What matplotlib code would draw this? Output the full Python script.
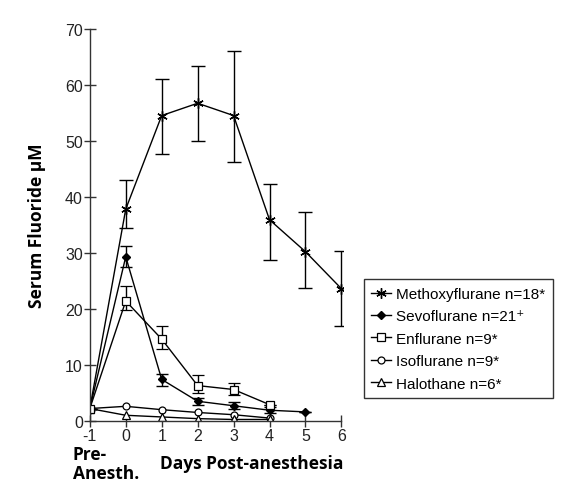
import numpy as np
import matplotlib
matplotlib.use("Agg")
import matplotlib.pyplot as plt
from matplotlib.lines import Line2D

# days (-1 = pre-anesthesia)
days = [-1, 0, 1, 2, 3, 4, 5, 6]

# Methoxyflurane n=18
metho = [2.3, 37.9, 54.6, 56.8, 54.6, 36.0, 30.3, 23.7]
metho_lo = [2.3, 34.5, 47.7, 50.0, 46.4, 28.9, 23.9, 17.0]
metho_hi = [2.3, 43.1, 61.2, 63.5, 66.1, 42.3, 37.4, 30.4]

# Sevoflurane n=21
sevo_days = [-1, 0, 1, 2, 3, 4, 5]
sevo = [2.3, 29.4, 7.5, 3.6, 2.8, 2.0, 1.7]
sevo_lo = [2.3, 27.6, 6.4, 3.0, 2.2, 1.5, 1.7]
sevo_hi = [2.3, 31.4, 8.5, 4.2, 3.4, 2.5, 1.7]

# Enflurane n=9
enflu_days = [-1, 0, 1, 2, 3, 4]
enflu = [2.3, 21.5, 14.7, 6.4, 5.7, 3.0]
enflu_lo = [2.3, 19.9, 12.9, 5.1, 4.8, 3.0]
enflu_hi = [2.3, 24.1, 17.1, 8.3, 6.8, 3.0]

# Isoflurane n=9
iso_days = [-1, 0, 1, 2, 3, 4]
iso = [2.3, 2.7, 2.1, 1.6, 1.2, 0.6]

# Halothane n=6
halo_days = [-1, 0, 1, 2, 3, 4]
halo = [2.3, 1.1, 0.8, 0.5, 0.35, 0.35]

labels = ["Methoxyflurane n=18*", "Sevoflurane n=21\u207a", "Enflurane n=9*",
          "Isoflurane n=9*", "Halothane n=6*"]
xtick_vals = [-1, 0, 1, 2, 3, 4, 5, 6]
ytick_vals = [0, 10, 20, 30, 40, 50, 60, 70]

fig = plt.figure(figsize=(5.72, 4.85), dpi=100)
ax = fig.add_axes([0.157, 0.129, 0.443, 0.812])

tickfont = ["Liberation Sans", "DejaVu Sans"]
labfont = "Open Sans"


def errs(v, lo, hi):
    v = np.array(v)
    return [v - np.array(lo), np.array(hi) - v]


styles = [
    dict(marker=(6, 2, 0), markersize=7.5, mew=1.0),
    dict(marker="D", markersize=4.2, mfc="black"),
    dict(marker="s", markersize=5.5, mfc="white", mew=0.9),
    dict(marker="o", markersize=5, mfc="white", mew=0.9),
    dict(marker="^", markersize=5.2, mfc="white", mew=0.9),
]

ax.errorbar(days, metho, yerr=errs(metho, metho_lo, metho_hi), color="black",
            lw=1.0, elinewidth=1.0, capsize=5, capthick=1.0, **styles[0])
ax.errorbar(sevo_days, sevo, yerr=errs(sevo, sevo_lo, sevo_hi), color="black",
            lw=1.0, elinewidth=1.0, capsize=4, capthick=1.0, **styles[1])
ax.errorbar(enflu_days, enflu, yerr=errs(enflu, enflu_lo, enflu_hi), color="black",
            lw=1.0, elinewidth=1.0, capsize=4, capthick=1.0, **styles[2])
ax.plot(iso_days, iso, color="black", lw=1.0, **styles[3])
ax.plot(halo_days, halo, color="black", lw=1.0, **styles[4])

ax.set_xlim(-1, 6.05)
ax.set_ylim(0, 70.3)
ax.set_xticks(xtick_vals)
ax.set_yticks(ytick_vals)
ax.set_xticklabels([str(v) for v in xtick_vals], fontfamily=tickfont, fontsize=11.5, color="#222222")
ax.set_yticklabels([str(v) for v in ytick_vals], fontfamily=tickfont, fontsize=11.5, color="#222222")
ax.tick_params(axis="both", direction="inout", length=8, width=1.0, color="#333333")
ax.tick_params(axis="x", pad=1)
ax.tick_params(axis="y", pad=1)
for s in ["top", "right"]:
    ax.spines[s].set_visible(False)
for s in ["left", "bottom"]:
    ax.spines[s].set_linewidth(1.0)
    ax.spines[s].set_color("#333333")
ax.spines["left"].set_bounds(0, 70)
ax.spines["bottom"].set_bounds(-1, 6)

ax.set_ylabel("Serum Fluoride \u03bcM", fontfamily=labfont, fontweight="bold",
              fontsize=12.5, labelpad=14)
fig.text(0.44, 0.034, "Days Post-anesthesia", fontfamily=labfont, fontweight="bold",
         fontsize=12.5, ha="center", va="baseline")
fig.text(0.127, 0.052, "Pre-", fontfamily=labfont, fontweight="bold",
         fontsize=12.5, ha="left", va="baseline")
fig.text(0.127, 0.012, "Anesth.", fontfamily=labfont, fontweight="bold",
         fontsize=12.5, ha="left", va="baseline")

handles = [Line2D([], [], color="black", lw=1.0, **st) for st in styles]
leg = ax.legend(handles, labels, loc="center left", bbox_to_anchor=(1.05, 0.21),
                frameon=True, fancybox=False, edgecolor="black", handlelength=1.3,
                handletextpad=0.35, borderpad=0.5, labelspacing=0.55,
                prop={"family": tickfont, "size": 11})
leg.get_frame().set_linewidth(1.0)

fig.savefig("out.png", dpi=100)
